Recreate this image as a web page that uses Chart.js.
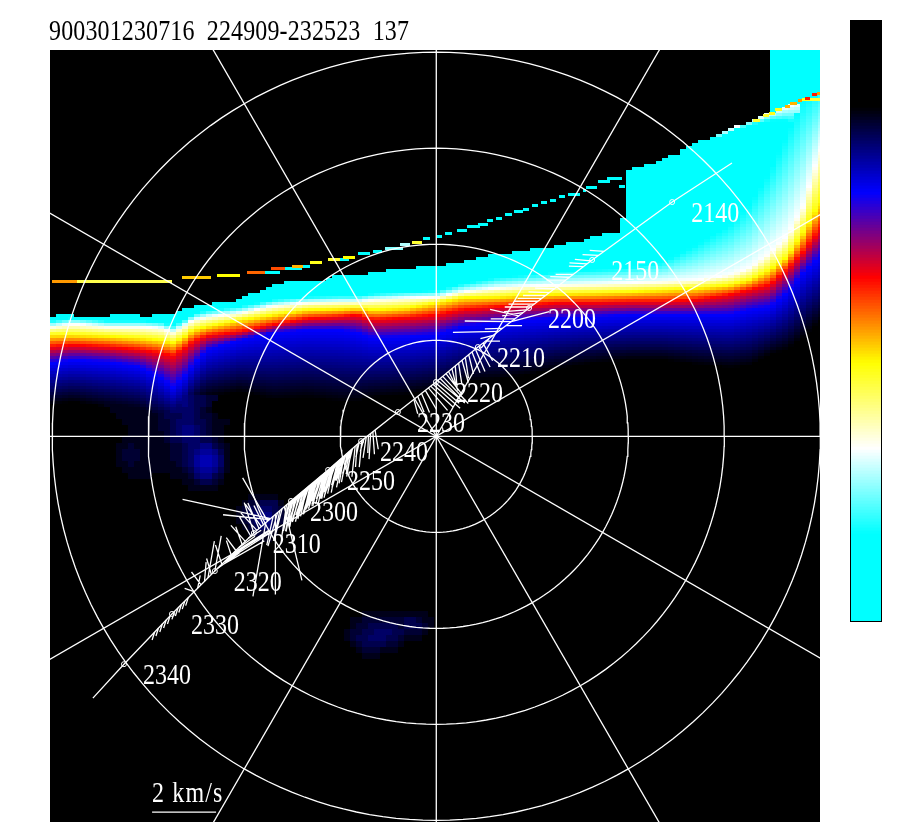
<!DOCTYPE html>
<html>
<head>
<meta charset="utf-8">
<title>900301230716</title>
<script src="https://cdn.jsdelivr.net/npm/chart.js@4/dist/chart.umd.min.js"></script>
<style>
    body { margin: 0; background: #fff; }
    #polar { position: absolute; left: 0; top: 0; }
    #bar { position: absolute; left: 851px; top: 21px; outline: 1px solid #000; }
</style>
</head>
<body>
<canvas id="polar" width="900" height="840"></canvas>
<canvas id="bar" width="30" height="600"></canvas>
<script>
//////////////////////////////////////////////////
/////       Data, everything in km/s    //////////
//////////////////////////////////////////////////

const titleText = '900301230716  224909-232523  137';
const ringRadii = [3, 6, 9, 12];
const spokeAngles = [0, 30, 60, 90, 120, 150];
const scaleBarX = [-8.88, -6.88];
const scaleBarY = [-11.74, -11.74];
const scaleBarText = '2 km/s';

// trajectory, one mark every ten minutes
const markTimes = ['2140', '2150', '2200', '2210', '2220', '2230', '2240', '2250', '2300', '2310', '2320', '2330', '2340'];
const markX = [7.37, 4.87, 2.90, 1.30, -0.01, -1.20, -2.35, -3.38, -4.54, -5.70, -6.92, -8.26, -9.76];
const markY = [7.32, 5.51, 4.01, 2.79, 1.70, 0.76, -0.15, -1.05, -2.02, -3.02, -4.21, -5.55, -7.12];
const trackEndX = [9.24, -10.73];
const trackEndY = [8.54, -8.18];

// flow whiskers: position along the marks (0 = 2140, 1 = 2150 ...) and vector
const whiskerT = [
    .85, .92, 1.02, 1.08, 1.14, 1.3, 1.36, 1.42, 1.52, 1.6, 1.68, 1.74, 1.8, 1.86, 1.92, 1.98,
    2.05, 2.12, 2.2, 2.28, 2.35, 2.35, 2.45, 2.52, 2.6, 2.7, 2.78, 2.85,
    2.9, 2.98, 3.06, 3.14, 3.22, 3.3, 3.38, 3.46, 3.54, 3.62, 3.7, 3.76, 3.84, 3.9, 3.96, 4.02, 4.08, 4.14, 4.2, 4.28, 4.38, 4.48, 4.58,
    5.62, 5.68, 5.74, 5.8, 5.86, 5.92, 5.98, 6.06, 6.12, 6.18, 6.26, 6.32, 6.38, 6.46, 6.52, 6.58, 6.64, 6.7, 6.76, 6.82, 6.88, 6.94,
    7.0, 7.06, 7.12, 7.18, 7.24, 7.3, 7.36, 7.42, 7.48, 7.54, 7.6, 7.66, 7.72, 7.78, 7.84, 7.9, 7.96,
    8.06, 8.12, 8.18, 8.24, 8.3, 8.36, 8.42, 8.48, 8.55, 8.58, 8.63, 8.68, 8.74, 8.8, 8.86, 8.92,
    9.0, 9.08, 9.14, 9.22, 9.3, 9.38, 9.46, 9.52, 9.58, 9.64, 9.7, 9.76, 9.82, 9.88, 9.94,
    10.0, 10.08, 10.16, 10.24, 10.32, 10.4, 10.48, 10.62, 10.7, 10.78, 10.86, 10.94, 11.04, 11.12, 11.2, 11.28, 11.36,
    6.29, 6.35, 6.42, 6.49, 6.55, 6.61, 6.67, 6.73, 6.79, 6.85, 6.91, 6.97, 7.03, 7.09, 7.15, 7.21, 7.27, 7.33, 7.39, 7.45, 7.51, 7.57, 7.63, 7.69, 7.75, 7.81, 7.87, 7.93, 7.99, 8.03
];
const whiskerVx = [
    -.45, -.5, -.5, -.55, -.45, -.55, -.6, -.6, -.5, -.6, -.65, -.7, -.75, -.75, -.8, -.8,
    -.7, -.65, -.9, -.75, -1.45, 1.19, .5, -.55, -1.42, -.4, -.25, .45,
    .3, .35, .3, .25, .15, .1, .2, .1, .05, .15, .3, .5, .8, .6, .85, .75, .85, .7, .6, .35, .25, .2, .12,
    .1, .05, -.05, -.02, -.1, -.12, -.08, -.1, -.05, -.1, -.2, -.15, -.2, -.25, -.15, -.2, -.25, -.2, -.3, -.2, -.25, -.3,
    -.2, -.3, -.25, -.3, -.2, -.35, -.25, -.3, -.2, -.3, -.25, -.2, -.3, -.2, -.25, -.15, -.2,
    -.2, -.15, .55, -.25, -.2, -.3, 0, -.2, -2.75, -1.45, -.78, -.4, -.3, -.5, -.35, -.5,
    -.3, -.35, .4, -.45, -.2, .5, -.3, 1.1, -.15, 1.3, .8, 1.53, -.2, 1.4, .7,
    .2, -.15, .2, .05, -.3, .08, -.3, -.08, -.08, -.08, -.08, -.08, -.08, -.08, -.08, -.08, -.08,
    -.15, -.22, -.18, -.28, -.2, -.25, -.22, -.18, -.3, -.25, -.22, -.28, -.25, -.2, -.3, -.25, -.3, -.22, -.28, -.25, -.3, -.2, -.28, -.22, -.25, -.3, -.2, -.22, -.18, -.2
];
const whiskerVy = [
    .03, .02, .05, .03, .02, 0, .02, 0, .02, .02, .02, 0, 0, 0, 0, 0,
    -.05, -.1, .2, 0, .02, .31, 0, -.02, -.03, -.1, -.3, 0,
    -.55, -.65, -.7, -.65, -.6, -.65, -.7, -.65, -.6, -.6, -.6, -.65, -.85, -.6, -.7, -.65, -.75, -.65, -.7, -.6, -.6, -.5, -.45,
    -.6, -.7, -.8, -.55, -.65, -.4, -.83, -.45, -.7, -.95, -.8, -.6, -.8, -.75, -.85, -.7, -.9, -.75, -.85, -.9, -.8, -.95,
    -.9, -.85, -.95, -.8, -.9, -.95, -.85, -.95, -.9, -.8, -.95, -.85, -.9, -.85, -.95, -.9, -1.0,
    -.95, -1, -2.3, -1.0, -.95, -1.05, -2.5, -.9, .6, .15, 1.35, -2.3, .6, .7, .8, .55,
    .95, .6, .25, .5, .55, .35, .4, .7, .45, .85, .55, .97, .6, .8, .5,
    1.1, .5, 1.15, .6, .4, .4, .1, -.25, -.25, -.25, -.25, -.25, -.25, -.25, -.25, -.25, -.25,
    -.85, -.7, -.9, -.8, -.95, -.75, -.85, -.95, -.8, -.9, -.95, -.85, -.8, -.95, -.9, -.85, -.95, -.8, -.9, -.95, -.85, -.9, -.8, -.95, -.9, -.85, -.95, -.85, -.95, -.9
];

// heat map levels: 0 black, 1 blue, 2 red, 3 yellow, 4 white, 5 cyan
const levelColors = [[0, 0, 0], [0, 0, 255], [255, 0, 0], [255, 255, 0], [255, 255, 255], [0, 255, 255]];

// where each level sits in every sampled column of the band
const bandX = [-12.01, -11.35, -10.29, -9.26, -8.63, -8.23, -7.92, -7.60, -7.17, -6.13, -5.10, -4.04, -3.01, -2.48, -1.98, -.92, .02, .83, 1.90, 2.93, 3.96, 5.02, 6.05, 7.08, 8.15, 9.18, 9.80, 10.43, 10.96, 11.46, 11.99];
const cyanEnd = [3.60, 3.70, 3.60, 3.60, 3.57, 3.45, 3.60, 3.82, 3.92, 4.05, 4.26, 4.35, 4.38, 4.38, 4.45, 4.51, 4.54, 4.76, 4.95, 5.04, 5.14, 5.20, 5.26, 5.44, 5.98, 6.60, 7.23, 8.26, 9.41, 10.5, 11.0];
const whiteAt = [3.42, 3.51, 3.42, 3.42, 3.38, 3.26, 3.42, 3.63, 3.73, 3.85, 4.07, 4.17, 4.20, 4.20, 4.26, 4.32, 4.35, 4.51, 4.63, 4.70, 4.73, 4.76, 4.80, 4.83, 4.88, 5.04, 5.26, 5.73, 6.23, 7.17, 8.95];
const yellowAt = [3.17, 3.17, 3.13, 3.07, 3.01, 2.92, 3.07, 3.32, 3.42, 3.63, 3.79, 3.95, 3.98, 4.01, 3.95, 4.01, 4.17, 4.33, 4.35, 4.42, 4.45, 4.48, 4.51, 4.57, 4.63, 4.73, 4.88, 5.20, 5.60, 6.35, 7.29];
const redAt = [2.79, 2.85, 2.79, 2.70, 2.60, 2.51, 2.70, 2.95, 3.13, 3.26, 3.48, 3.67, 3.73, 3.79, 3.63, 3.70, 3.79, 3.95, 4.04, 4.10, 4.17, 4.17, 4.20, 4.20, 4.26, 4.42, 4.57, 4.73, 5.20, 5.73, 6.45];
const blueAt = [2.29, 2.38, 2.32, 2.17, 1.85, 1.54, 1.80, 2.23, 2.70, 3.01, 3.23, 3.32, 3.32, 3.23, 3.07, 3.10, 3.17, 3.42, 3.54, 3.63, 3.70, 3.73, 3.79, 3.79, 3.79, 3.79, 3.95, 4.04, 4.48, 5.10, 5.60];
const blackAt = [.98, 1.07, .88, .73, .45, .35, .45, .98, 1.20, 1.38, 1.13, 1.20, 1.07, 1.07, 1.20, 1.29, 1.45, 1.70, 1.76, 1.92, 2.13, 2.29, 2.38, 2.38, 2.23, 2.13, 2.20, 2.54, 2.70, 3.07, 3.57];
const paleDepth = [0, 0, 0, 0, 0, 0, 0, 0, 0, 0, 0, 0, 0, 0, 0, 0, 0, 0, 0, 0, 0, 0, 0, 0, 0, .08, .12, .25, .45, .8, 1.7];

// upper edge of the cyan area
const edgeX = [-12.01, -11.35, -11.29, -10.26, -10.20, -9.23, -9.17, -8.95, -8.88, -8.10, -7.70, -7.38, -7.23, -6.67, -6.20, -5.82, -5.41, -4.88, -4.48, -3.54, -3.32, -2.17, -1.76, -.79, .12, .83, 1.30, 2.24, 2.71, 3.55, 4.08, 4.58, 5.05, 5.49, 5.70, 5.72, 5.89, 5.91, 6.24, 6.68, 7.15, 7.62, 7.87, 8.33, 8.80, 9.27, 9.90, 10.40, 10.90, 11.37, 11.99];
const edgeY = [3.76, 3.85, 3.76, 3.76, 3.85, 3.85, 3.76, 3.76, 3.85, 3.85, 4.04, 4.13, 4.07, 4.23, 4.23, 4.42, 4.60, 4.79, 4.85, 4.88, 4.98, 5.07, 5.17, 5.26, 5.35, 5.45, 5.60, 5.73, 5.82, 5.92, 6.01, 6.13, 6.26, 6.38, 6.38, 6.85, 6.85, 8.23, 8.38, 8.51, 8.73, 8.85, 9.07, 9.26, 9.41, 9.63, 9.88, 10.10, 10.29, 10.45, 10.66];
const blockFrom = 10.40;

// thin streak above the main band
const streakFrom = [-12.01, -11.23, -7.95, -6.85, -5.90, -5.35, -5.17, -4.73, -4.51, -4.17, -3.95, -3.38, -3.01, -2.92, -2.45, -1.98, -1.60, -1.13, -.76, -.42, .02, .27, .65, .96, 1.30, 1.58, 1.87, 2.15, 2.43, 2.71, 2.99, 3.27, 3.55, 3.83, 4.12, 4.58, 4.68, 5.05, 5.33, 5.71, 9.90, 10.21, 10.40, 10.58, 10.90, 11.05, 11.30, 11.43, 11.68, 11.52, 11.74, 11.90];
const streakTo = [-11.23, -8.26, -7.04, -6.13, -5.35, -4.88, -4.70, -4.20, -4.17, -3.95, -3.57, -3.01, -2.73, -2.54, -2.07, -1.70, -1.04, -.82, -.45, -.20, .18, .49, .96, 1.37, 1.62, 1.77, 2.05, 2.37, 2.71, 2.90, 3.18, 3.46, 3.74, 4.02, 4.49, 4.68, 5.02, 5.43, 5.80, 5.90, 10.12, 10.40, 10.58, 10.80, 11.05, 11.27, 11.43, 11.68, 11.99, 11.68, 11.90, 11.99];
const streakAt = [4.84, 4.84, 4.95, 5.04, 5.13, 5.13, 5.23, 5.23, 5.32, 5.32, 5.42, 5.51, 5.51, 5.60, 5.70, 5.79, 5.88, 5.98, 6.07, 6.17, 6.23, 6.35, 6.42, 6.54, 6.63, 6.73, 6.82, 6.92, 7.01, 7.10, 7.20, 7.29, 7.38, 7.48, 7.57, 7.67, 7.76, 7.95, 8.04, 7.82, 9.88, 10.01, 10.10, 10.20, 10.32, 10.39, 10.48, 10.51, 10.51, 10.57, 10.67, 10.70];
const streakLevel = [2.6, 3.3, 2.8, 3.0, 2.4, 5, 2.3, 5, 2.7, 5, 3.1, 3.2, 5, 3.0, 5, 5, 4.5, 4.3, 3.2, 5, 5, 5, 5, 5, 5, 5, 5, 5, 5, 5, 5, 5, 5, 5, 5, 5, 5, 5, 5, 5, 3.2, 3.2, 3.1, 3.1, 2.7, 2.7, 2.6, 3.1, 3.2, 2.1, 2.1, 2.6];

// faint patches below the band, blue level in tenths for each cell
const patchLeft = [-10.57, -6.26, -3.32];
const patchTop = [1.32, -1.80, -5.49];
const patchRows = [
    [
        '11111112233455543322000000',
        '01111111223444543320000000',
        '00111111122344443210000000',
        '00011111112333443221000000',
        '00001111112234443321110000',
        '00000111112234554321100000',
        '00000111111234554321100000',
        '00001111111233444332100000',
        '00011211111122344553210000',
        '00012221111122345665310000',
        '00012221111122346776410000',
        '00011211111112346776410000',
        '00001111111111235665310000',
        '00000111100011124553200000',
        '00000000000000112332100000',
        '00000000000000011111000000'
    ],
    [
        '0011111000',
        '0122333100',
        '1233443210',
        '1234553210',
        '1234553210',
        '0123443100',
        '0012221000',
        '0001110000'
    ],
    [
        '000001111111111100',
        '000112222222332110',
        '000122333332333210',
        '001223344433222100',
        '001233444332111000',
        '000123333221000000',
        '000012221110000000',
        '000001110000000000'
    ]
];

//////////////////////////////////////////////////
/////       Helpers                 //////////////
//////////////////////////////////////////////////

const xMin = -12.07, xMax = 11.99, yMin = -12.05, yMax = 12.07;
const cellW = 0.1875, cellH = 0.09375, patchCell = 0.1875;

function levelColor(level) {
    let l = Math.max(0, Math.min(5, level));
    let i = Math.min(4, Math.floor(l));
    let f = l - i;
    let a = levelColors[i], b = levelColors[i + 1];
    return 'rgb(' + Math.round(a[0] + (b[0] - a[0]) * f) + ',' + Math.round(a[1] + (b[1] - a[1]) * f) + ',' + Math.round(a[2] + (b[2] - a[2]) * f) + ')';
}

// value of a sampled column at x
function at(xs, ys, x) {
    if (x <= xs[0]) return ys[0];
    for (let i = 1; i < xs.length; i++) {
        if (x <= xs[i]) return ys[i - 1] + (ys[i] - ys[i - 1]) * (x - xs[i - 1]) / (xs[i] - xs[i - 1]);
    }
    return ys[ys.length - 1];
}

function patchLevel(x, y) {
    let best = 0;
    patchRows.forEach(function (rows, p) {
        let r = Math.floor((patchTop[p] - y) / patchCell);
        let c = Math.floor((x - patchLeft[p]) / patchCell);
        if (r >= 0 && r < rows.length && c >= 0 && c < rows[r].length) {
            best = Math.max(best, Number(rows[r][c]) / 10);
        }
    });
    return best;
}

function cellLevel(x, y) {
    let top = at(edgeX, edgeY, x);
    if (y > top) return x >= blockFrom ? 5 : patchLevel(x, y);

    let stops = [at(bandX, cyanEnd, x), at(bandX, whiteAt, x), at(bandX, yellowAt, x), at(bandX, redAt, x), at(bandX, blueAt, x), at(bandX, blackAt, x)];
    let level = 0;
    for (let i = 0; i < 5; i++) {
        if (y <= stops[i] && y > stops[i + 1]) {
            level = (5 - i) - (stops[i] - y) / (stops[i] - stops[i + 1]);
        }
    }
    if (y > stops[0]) {
        level = 5;
        let pale = at(bandX, paleDepth, x);
        if (pale > 0 && top - y < pale) level = 4 + (top - y) / pale;
    }
    return Math.max(level, patchLevel(x, y));
}

function polarPoint(r, deg) {
    return { x: r * Math.cos(deg * Math.PI / 180), y: r * Math.sin(deg * Math.PI / 180) };
}

function trackAt(t) {
    let i = Math.min(markX.length - 2, Math.floor(t));
    let f = t - i;
    return { x: markX[i] + (markX[i + 1] - markX[i]) * f, y: markY[i] + (markY[i + 1] - markY[i]) * f };
}

function whiteLine(points) {
    return { data: points, showLine: true, borderColor: '#fff', borderWidth: 1.3, pointRadius: 0, tension: 0, spanGaps: false };
}

// the original uses a tall narrow serif
function drawText(ctx, text, px, py, spacing) {
    ctx.save();
    ctx.translate(px, py);
    ctx.scale(0.8, 1);
    ctx.font = '30px "Liberation Serif"';
    ctx.letterSpacing = (spacing || 0) + 'px';
    ctx.textBaseline = 'alphabetic';
    ctx.textAlign = 'left';
    ctx.fillText(text, 0, 0);
    ctx.restore();
}

//////////////////////////////////////////////////
/////       Datasets                //////////////
//////////////////////////////////////////////////

let datasets = [];

ringRadii.forEach(function (r) {
    let pts = [];
    for (let a = 0; a <= 360; a += 2) pts.push(polarPoint(r, a));
    datasets.push(whiteLine(pts));
});

spokeAngles.forEach(function (a) {
    datasets.push(whiteLine([polarPoint(18, a), polarPoint(18, a + 180)]));
});

let whiskerPoints = [];
whiskerT.forEach(function (t, i) {
    let b = trackAt(t);
    whiskerPoints.push(b, { x: b.x + whiskerVx[i], y: b.y + whiskerVy[i] }, { x: NaN, y: NaN });
});
datasets.push(whiteLine(whiskerPoints));

let trackPoints = [{ x: trackEndX[0], y: trackEndY[0] }];
markX.forEach(function (x, i) { trackPoints.push({ x: x, y: markY[i] }); });
trackPoints.push({ x: trackEndX[1], y: trackEndY[1] });
datasets.push(whiteLine(trackPoints));

datasets.push({
    data: markX.map(function (x, i) { return { x: x, y: markY[i] }; }),
    showLine: false,
    pointStyle: 'circle',
    pointRadius: 2.5,
    pointBorderColor: '#fff',
    pointBorderWidth: 1,
    pointBackgroundColor: 'rgba(0,0,0,0)'
});

datasets.push(whiteLine([{ x: scaleBarX[0], y: scaleBarY[0] }, { x: scaleBarX[1], y: scaleBarY[1] }]));

//////////////////////////////////////////////////
/////       Heat map and text plugins    /////////
//////////////////////////////////////////////////

const heatPlugin = {
    id: 'heat',
    beforeDatasetsDraw: function (chart) {
        let ctx = chart.ctx, sx = chart.scales.x, sy = chart.scales.y, area = chart.chartArea;
        ctx.save();
        ctx.fillStyle = '#000';
        ctx.fillRect(area.left, area.top, area.right - area.left, area.bottom - area.top);

        for (let x0 = xMin; x0 < xMax; x0 += cellW) {
            let left = Math.round(sx.getPixelForValue(x0));
            let right = Math.round(sx.getPixelForValue(Math.min(xMax, x0 + cellW)));
            for (let y0 = yMax; y0 > yMin; y0 -= cellH) {
                let level = cellLevel(x0 + cellW / 2, y0 - cellH / 2);
                if (level <= 0.01) continue;
                let top = Math.round(sy.getPixelForValue(y0));
                let bottom = Math.round(sy.getPixelForValue(y0 - cellH));
                ctx.fillStyle = levelColor(level);
                ctx.fillRect(left, top, right - left, bottom - top);
            }
        }

        streakFrom.forEach(function (from, i) {
            let top = Math.round(sy.getPixelForValue(streakAt[i] + cellH / 2));
            let left = Math.round(sx.getPixelForValue(from));
            ctx.fillStyle = levelColor(streakLevel[i]);
            ctx.fillRect(left, top, Math.round(sx.getPixelForValue(streakTo[i])) - left, 3);
        });
        ctx.restore();
    },
    afterDatasetsDraw: function (chart) {
        let ctx = chart.ctx, sx = chart.scales.x, sy = chart.scales.y;
        ctx.save();
        ctx.fillStyle = '#fff';
        markTimes.forEach(function (label, i) {
            drawText(ctx, label, sx.getPixelForValue(markX[i]) + 19, sy.getPixelForValue(markY[i]) + 20);
        });
        drawText(ctx, scaleBarText, sx.getPixelForValue(scaleBarX[0]), sy.getPixelForValue(scaleBarY[0]) - 10, 1.4);
        ctx.fillStyle = '#000';
        drawText(ctx, titleText, chart.chartArea.left - 1, chart.chartArea.top - 10, 0.16);
        ctx.restore();
    }
};

//////////////////////////////////////////////////
/////       Main chart              //////////////
//////////////////////////////////////////////////

new Chart(document.getElementById('polar').getContext('2d'), {
    type: 'scatter',
    data: { datasets: datasets },
    options: {
        responsive: false,
        animation: false,
        devicePixelRatio: 1,
        layout: { padding: { left: 50, right: 80, top: 50, bottom: 18 } },
        plugins: { legend: { display: false }, tooltip: { enabled: false } },
        scales: {
            x: { type: 'linear', min: xMin, max: xMax, display: false },
            y: { type: 'linear', min: yMin, max: yMax, display: false }
        }
    },
    plugins: [heatPlugin]
});

//////////////////////////////////////////////////
/////       Colour bar              //////////////
//////////////////////////////////////////////////

// top of the bar is below level 0, bottom is past level 5, both just hold the end colour
const barTopLevel = -0.99, barBottomLevel = 6.0, barCount = 200;
let barLabels = [], barColors = [], barSizes = [];
for (let i = 0; i < barCount; i++) {
    let level = barTopLevel + (barBottomLevel - barTopLevel) * i / (barCount - 1);
    barLabels.push(level.toFixed(2));
    barColors.push(levelColor(level));
    barSizes.push(1);
}

new Chart(document.getElementById('bar').getContext('2d'), {
    type: 'bar',
    data: {
        labels: barLabels,
        datasets: [{ data: barSizes, backgroundColor: barColors, categoryPercentage: 1, barPercentage: 1, borderWidth: 0 }]
    },
    options: {
        indexAxis: 'y',
        responsive: false,
        animation: false,
        devicePixelRatio: 1,
        plugins: { legend: { display: false }, tooltip: { enabled: false } },
        scales: {
            x: { display: false, min: 0, max: 1 },
            y: { display: false }
        }
    }
});
</script>
</body>
</html>
